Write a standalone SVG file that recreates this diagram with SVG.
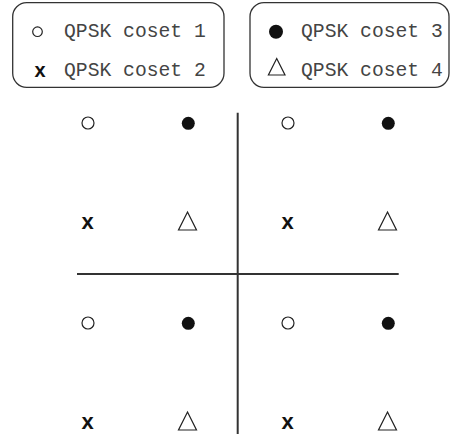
<svg xmlns="http://www.w3.org/2000/svg" width="456" height="434" viewBox="0 0 456 434">
<style>
.box{fill:none;stroke:#333;stroke-width:1.3}
.lbl{font-family:"Liberation Mono","Courier New",monospace;font-size:19.7px;fill:#444}
.xm{font-family:"Liberation Sans",Arial,sans-serif;font-weight:bold;fill:#111;text-anchor:middle}
.oc{fill:none;stroke:#222;stroke-width:1.2}
.fc{fill:#111}
.tri{fill:none;stroke:#222;stroke-width:1.2;stroke-linejoin:miter}
.ax{stroke:#333;stroke-width:2}
</style>
<defs>
<circle id="o" r="6" class="oc"/>
<circle id="f" r="6.5" class="fc"/>
<polygon id="t" points="0,-18 9,0 -9,0" class="tri"/>
</defs>
<g id="legend1">
<rect class="box" x="12.7" y="2.7" width="211.3" height="84.6" rx="14"/>
<circle cx="37.5" cy="31.7" r="4.8" class="oc"/>
<text class="lbl" x="64" y="36.5">QPSK coset 1</text>
<text class="xm" x="40" y="77" font-size="20">x</text>
<text class="lbl" x="64" y="76">QPSK coset 2</text>
</g>
<g id="legend2">
<rect class="box" x="250" y="2.7" width="199" height="84.6" rx="14"/>
<circle cx="276" cy="31.7" r="7" class="fc"/>
<text class="lbl" x="301" y="36.5">QPSK coset 3</text>
<polygon points="276.7,58.5 285,75 268.4,75" class="tri"/>
<text class="lbl" x="301" y="76">QPSK coset 4</text>
</g>
<g id="axes">
<line class="ax" x1="237.7" y1="112.7" x2="237.7" y2="434"/>
<line class="ax" x1="77" y1="274" x2="398.7" y2="274"/>
</g>
<g id="points">
<use href="#o" x="88" y="123"/>
<use href="#f" x="188.3" y="123.3"/>
<use href="#o" x="288" y="123"/>
<use href="#f" x="388.3" y="123.3"/>
<text class="xm" x="87.5" y="228.7" font-size="22">x</text>
<use href="#t" x="187.5" y="230"/>
<text class="xm" x="287.5" y="228.7" font-size="22">x</text>
<use href="#t" x="387.5" y="230"/>
<use href="#o" x="88" y="323"/>
<use href="#f" x="188.3" y="323.3"/>
<use href="#o" x="288" y="323"/>
<use href="#f" x="388.3" y="323.3"/>
<text class="xm" x="87.5" y="428.7" font-size="22">x</text>
<use href="#t" x="187.5" y="430"/>
<text class="xm" x="287.5" y="428.7" font-size="22">x</text>
<use href="#t" x="387.5" y="430"/>
</g>
</svg>
